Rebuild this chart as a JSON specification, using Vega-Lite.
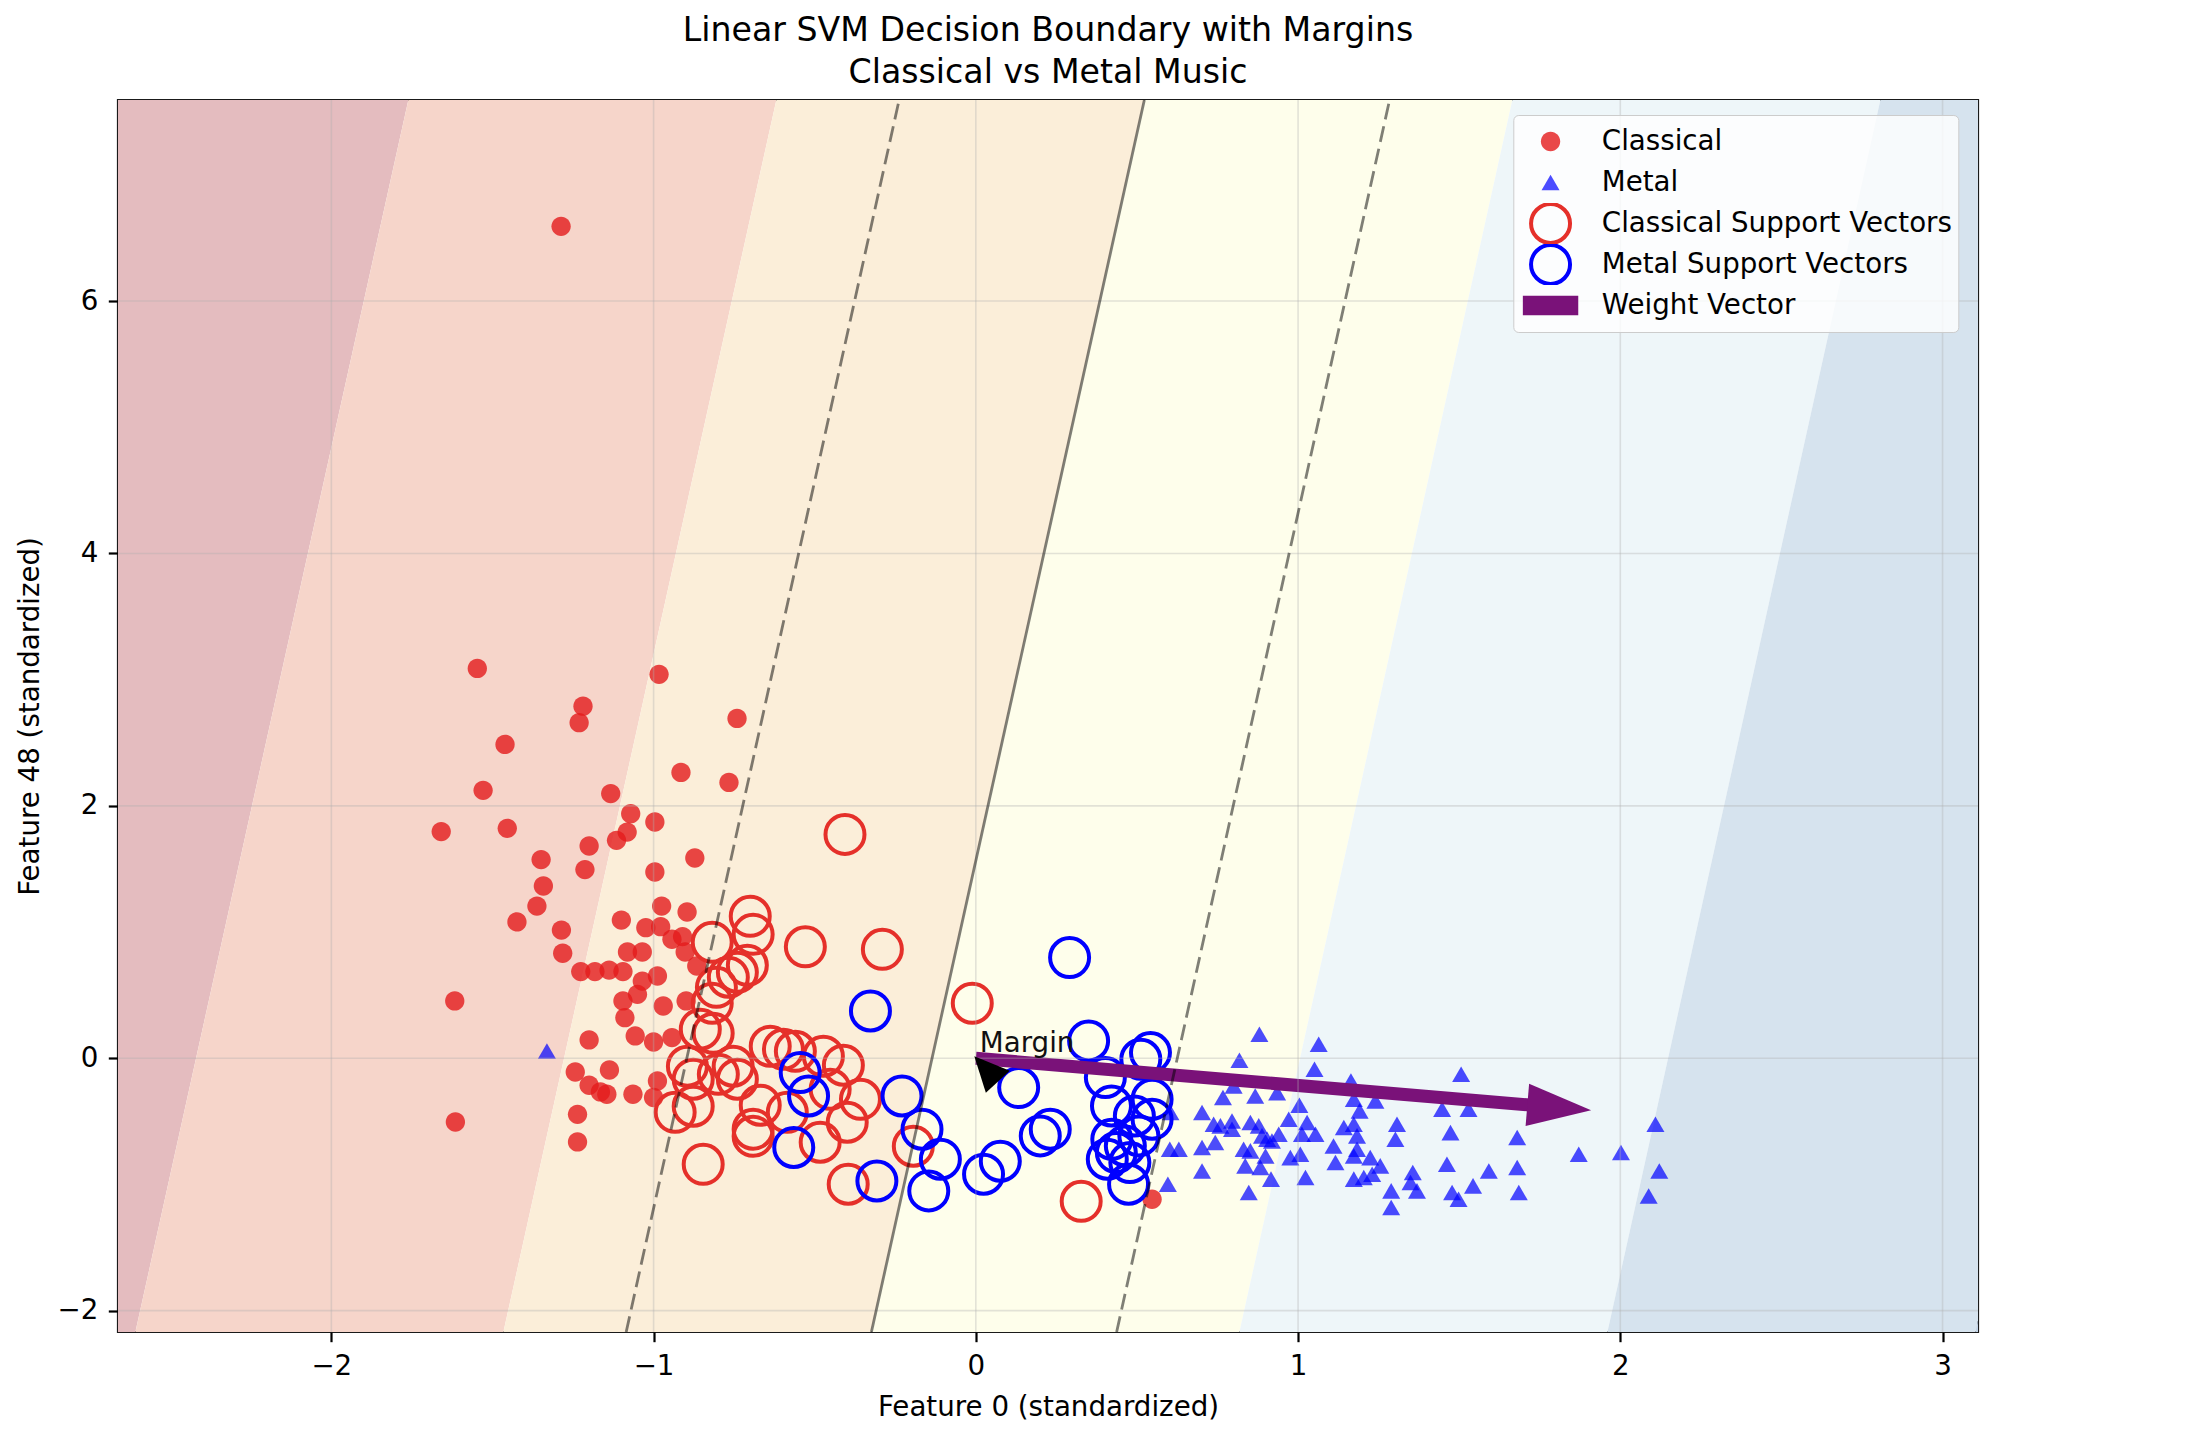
{
  "$schema": "https://vega.github.io/schema/vega-lite/v6.json",
  "width": 1860,
  "height": 1232,
  "autosize": {"type": "none"},
  "padding": {"left": 118, "top": 100, "right": 208, "bottom": 116},
  "background": "white",
  "config": {
    "font": "DejaVu Sans",
    "view": {"stroke": "#1a1a1a", "strokeWidth": 2.2},
    "axis": {"grid": false}
  },
  "title": {
    "text": ["Linear SVM Decision Boundary with Margins", "Classical vs Metal Music"],
    "font": "DejaVu Sans", "fontSize": 33.2, "fontWeight": "normal", "color": "#000",
    "lineHeight": 41.6, "baseline": "bottom", "offset": -24, "anchor": "middle", "frame": "group"
  },
  "datasets": {
    "bands": [
      {"b": 1, "y": -2.169, "xl": -4, "xr": -2.608}, {"b": 1, "y": 7.593, "xl": -4, "xr": -1.761},
      {"b": 2, "y": -2.169, "xl": -2.608, "xr": -1.466}, {"b": 2, "y": 7.593, "xl": -1.761, "xr": -0.619},
      {"b": 3, "y": -2.169, "xl": -1.466, "xr": -0.324}, {"b": 3, "y": 7.593, "xl": -0.619, "xr": 0.523},
      {"b": 4, "y": -2.169, "xl": -0.324, "xr": 0.818}, {"b": 4, "y": 7.593, "xl": 0.523, "xr": 1.665},
      {"b": 5, "y": -2.169, "xl": 0.818, "xr": 1.960}, {"b": 5, "y": 7.593, "xl": 1.665, "xr": 2.807},
      {"b": 6, "y": -2.169, "xl": 1.960, "xr": 3.102}, {"b": 6, "y": 7.593, "xl": 2.807, "xr": 3.949},
      {"b": 7, "y": -2.169, "xl": 3.102, "xr": 5}, {"b": 7, "y": 7.593, "xl": 3.949, "xr": 5}
    ],
    "solid": [{"x": -0.324, "y": -2.169, "x2": 0.523, "y2": 7.593}],
    "dashed": [
      {"x": -1.085, "y": -2.169, "x2": -0.238, "y2": 7.593},
      {"x": 0.437, "y": -2.169, "x2": 1.284, "y2": 7.593}
    ],
    "gx": [{"v": -2}, {"v": -1}, {"v": 0}, {"v": 1}, {"v": 2}, {"v": 3}],
    "gy": [{"v": -2}, {"v": 0}, {"v": 2}, {"v": 4}, {"v": 6}],
    "pts": [
      {"x": -1.287, "y": 6.592, "s": "Classical"}, {"x": -1.547, "y": 3.089, "s": "Classical"}, {"x": -0.983, "y": 3.042, "s": "Classical"}, {"x": -1.219, "y": 2.790, "s": "Classical"},
      {"x": -1.231, "y": 2.659, "s": "Classical"}, {"x": -0.741, "y": 2.693, "s": "Classical"}, {"x": -1.461, "y": 2.487, "s": "Classical"}, {"x": -0.915, "y": 2.265, "s": "Classical"},
      {"x": -0.766, "y": 2.186, "s": "Classical"}, {"x": -1.529, "y": 2.123, "s": "Classical"}, {"x": -1.133, "y": 2.097, "s": "Classical"}, {"x": -1.071, "y": 1.938, "s": "Classical"},
      {"x": -0.996, "y": 1.872, "s": "Classical"}, {"x": -1.659, "y": 1.796, "s": "Classical"}, {"x": -1.454, "y": 1.822, "s": "Classical"}, {"x": -1.082, "y": 1.792, "s": "Classical"},
      {"x": -1.115, "y": 1.727, "s": "Classical"}, {"x": -1.200, "y": 1.682, "s": "Classical"}, {"x": -0.872, "y": 1.587, "s": "Classical"}, {"x": -1.349, "y": 1.574, "s": "Classical"},
      {"x": -1.213, "y": 1.495, "s": "Classical"}, {"x": -0.996, "y": 1.476, "s": "Classical"}, {"x": -1.342, "y": 1.365, "s": "Classical"}, {"x": -0.975, "y": 1.206, "s": "Classical"},
      {"x": -1.362, "y": 1.206, "s": "Classical"}, {"x": -0.896, "y": 1.159, "s": "Classical"}, {"x": -1.424, "y": 1.080, "s": "Classical"}, {"x": -1.100, "y": 1.095, "s": "Classical"},
      {"x": -1.286, "y": 1.016, "s": "Classical"}, {"x": -1.024, "y": 1.035, "s": "Classical"}, {"x": -0.978, "y": 1.043, "s": "Classical"}, {"x": -0.943, "y": 0.943, "s": "Classical"},
      {"x": -0.910, "y": 0.964, "s": "Classical"}, {"x": -1.081, "y": 0.842, "s": "Classical"}, {"x": -1.035, "y": 0.842, "s": "Classical"}, {"x": -0.902, "y": 0.842, "s": "Classical"},
      {"x": -1.282, "y": 0.832, "s": "Classical"}, {"x": -0.866, "y": 0.731, "s": "Classical"}, {"x": -1.226, "y": 0.687, "s": "Classical"}, {"x": -1.182, "y": 0.687, "s": "Classical"},
      {"x": -1.138, "y": 0.699, "s": "Classical"}, {"x": -1.095, "y": 0.687, "s": "Classical"}, {"x": -1.035, "y": 0.612, "s": "Classical"}, {"x": -0.988, "y": 0.652, "s": "Classical"},
      {"x": -1.050, "y": 0.507, "s": "Classical"}, {"x": -1.095, "y": 0.454, "s": "Classical"}, {"x": -0.970, "y": 0.414, "s": "Classical"}, {"x": -1.617, "y": 0.454, "s": "Classical"},
      {"x": -0.899, "y": 0.454, "s": "Classical"}, {"x": -1.089, "y": 0.322, "s": "Classical"}, {"x": -1.057, "y": 0.177, "s": "Classical"}, {"x": -1.000, "y": 0.129, "s": "Classical"},
      {"x": -0.943, "y": 0.164, "s": "Classical"}, {"x": -1.200, "y": 0.145, "s": "Classical"}, {"x": -1.243, "y": -0.109, "s": "Classical"}, {"x": -1.137, "y": -0.093, "s": "Classical"},
      {"x": -1.200, "y": -0.214, "s": "Classical"}, {"x": -1.165, "y": -0.267, "s": "Classical"}, {"x": -1.145, "y": -0.285, "s": "Classical"}, {"x": -1.064, "y": -0.285, "s": "Classical"},
      {"x": -0.988, "y": -0.180, "s": "Classical"}, {"x": -1.000, "y": -0.311, "s": "Classical"}, {"x": -1.236, "y": -0.444, "s": "Classical"}, {"x": -1.615, "y": -0.505, "s": "Classical"},
      {"x": -1.236, "y": -0.663, "s": "Classical"}, {"x": 0.547, "y": -1.117, "s": "Classical"},
      {"x": -1.331, "y": 0.058, "s": "Metal"}, {"x": 0.880, "y": 0.190, "s": "Metal"}, {"x": 0.818, "y": -0.016, "s": "Metal"}, {"x": 1.064, "y": 0.111, "s": "Metal"},
      {"x": 1.051, "y": -0.087, "s": "Metal"}, {"x": 1.506, "y": -0.127, "s": "Metal"}, {"x": 1.164, "y": -0.180, "s": "Metal"}, {"x": 0.800, "y": -0.219, "s": "Metal"},
      {"x": 0.767, "y": -0.311, "s": "Metal"}, {"x": 0.867, "y": -0.299, "s": "Metal"}, {"x": 0.935, "y": -0.272, "s": "Metal"}, {"x": 1.004, "y": -0.372, "s": "Metal"},
      {"x": 1.173, "y": -0.325, "s": "Metal"}, {"x": 1.191, "y": -0.417, "s": "Metal"}, {"x": 1.240, "y": -0.338, "s": "Metal"}, {"x": 1.447, "y": -0.404, "s": "Metal"},
      {"x": 1.529, "y": -0.404, "s": "Metal"}, {"x": 0.702, "y": -0.430, "s": "Metal"}, {"x": 0.738, "y": -0.523, "s": "Metal"}, {"x": 0.759, "y": -0.536, "s": "Metal"},
      {"x": 0.795, "y": -0.497, "s": "Metal"}, {"x": 0.795, "y": -0.562, "s": "Metal"}, {"x": 0.852, "y": -0.509, "s": "Metal"}, {"x": 0.878, "y": -0.536, "s": "Metal"},
      {"x": 0.888, "y": -0.615, "s": "Metal"}, {"x": 0.904, "y": -0.642, "s": "Metal"}, {"x": 0.919, "y": -0.655, "s": "Metal"}, {"x": 0.971, "y": -0.483, "s": "Metal"},
      {"x": 0.940, "y": -0.602, "s": "Metal"}, {"x": 1.028, "y": -0.509, "s": "Metal"}, {"x": 1.054, "y": -0.602, "s": "Metal"}, {"x": 1.012, "y": -0.602, "s": "Metal"},
      {"x": 1.142, "y": -0.549, "s": "Metal"}, {"x": 1.173, "y": -0.523, "s": "Metal"}, {"x": 1.183, "y": -0.615, "s": "Metal"}, {"x": 1.307, "y": -0.523, "s": "Metal"},
      {"x": 1.302, "y": -0.642, "s": "Metal"}, {"x": 1.473, "y": -0.589, "s": "Metal"}, {"x": 1.680, "y": -0.628, "s": "Metal"}, {"x": 2.109, "y": -0.523, "s": "Metal"},
      {"x": 0.743, "y": -0.668, "s": "Metal"}, {"x": 0.702, "y": -0.707, "s": "Metal"}, {"x": 0.702, "y": -0.893, "s": "Metal"}, {"x": 0.831, "y": -0.721, "s": "Metal"},
      {"x": 0.852, "y": -0.734, "s": "Metal"}, {"x": 0.899, "y": -0.774, "s": "Metal"}, {"x": 0.976, "y": -0.787, "s": "Metal"}, {"x": 1.007, "y": -0.760, "s": "Metal"},
      {"x": 1.110, "y": -0.695, "s": "Metal"}, {"x": 1.116, "y": -0.826, "s": "Metal"}, {"x": 1.173, "y": -0.774, "s": "Metal"}, {"x": 1.183, "y": -0.721, "s": "Metal"},
      {"x": 0.836, "y": -0.853, "s": "Metal"}, {"x": 0.883, "y": -0.866, "s": "Metal"}, {"x": 1.224, "y": -0.787, "s": "Metal"}, {"x": 1.255, "y": -0.853, "s": "Metal"},
      {"x": 1.173, "y": -0.958, "s": "Metal"}, {"x": 1.204, "y": -0.945, "s": "Metal"}, {"x": 1.230, "y": -0.919, "s": "Metal"}, {"x": 0.916, "y": -0.958, "s": "Metal"},
      {"x": 1.023, "y": -0.945, "s": "Metal"}, {"x": 1.462, "y": -0.840, "s": "Metal"}, {"x": 1.680, "y": -0.866, "s": "Metal"}, {"x": 1.592, "y": -0.893, "s": "Metal"},
      {"x": 1.871, "y": -0.760, "s": "Metal"}, {"x": 2.002, "y": -0.747, "s": "Metal"}, {"x": 2.121, "y": -0.893, "s": "Metal"}, {"x": 1.356, "y": -0.905, "s": "Metal"},
      {"x": 1.349, "y": -0.985, "s": "Metal"}, {"x": 1.369, "y": -1.051, "s": "Metal"}, {"x": 1.289, "y": -1.051, "s": "Metal"}, {"x": 1.289, "y": -1.183, "s": "Metal"},
      {"x": 0.847, "y": -1.064, "s": "Metal"}, {"x": 1.478, "y": -1.064, "s": "Metal"}, {"x": 1.498, "y": -1.117, "s": "Metal"}, {"x": 1.543, "y": -1.011, "s": "Metal"},
      {"x": 1.685, "y": -1.064, "s": "Metal"}, {"x": 2.088, "y": -1.091, "s": "Metal"}, {"x": 0.602, "y": -0.721, "s": "Metal"}, {"x": 0.630, "y": -0.721, "s": "Metal"},
      {"x": 0.596, "y": -0.998, "s": "Metal"}, {"x": 0.604, "y": -0.430, "s": "Metal"},
      {"x": -0.406, "y": 1.774, "s": "Classical Support Vectors"}, {"x": -0.700, "y": 1.125, "s": "Classical Support Vectors"}, {"x": -0.691, "y": 0.982, "s": "Classical Support Vectors"}, {"x": -0.818, "y": 0.919, "s": "Classical Support Vectors"},
      {"x": -0.529, "y": 0.883, "s": "Classical Support Vectors"}, {"x": -0.290, "y": 0.863, "s": "Classical Support Vectors"}, {"x": -0.709, "y": 0.737, "s": "Classical Support Vectors"}, {"x": -0.740, "y": 0.681, "s": "Classical Support Vectors"},
      {"x": -0.768, "y": 0.642, "s": "Classical Support Vectors"}, {"x": -0.805, "y": 0.562, "s": "Classical Support Vectors"}, {"x": -0.818, "y": 0.436, "s": "Classical Support Vectors"}, {"x": -0.855, "y": 0.230, "s": "Classical Support Vectors"},
      {"x": -0.815, "y": 0.198, "s": "Classical Support Vectors"}, {"x": -0.638, "y": 0.095, "s": "Classical Support Vectors"}, {"x": -0.597, "y": 0.071, "s": "Classical Support Vectors"}, {"x": -0.560, "y": 0.055, "s": "Classical Support Vectors"},
      {"x": -0.473, "y": 0.016, "s": "Classical Support Vectors"}, {"x": -0.411, "y": -0.055, "s": "Classical Support Vectors"}, {"x": -0.895, "y": -0.063, "s": "Classical Support Vectors"}, {"x": -0.877, "y": -0.166, "s": "Classical Support Vectors"},
      {"x": -0.799, "y": -0.127, "s": "Classical Support Vectors"}, {"x": -0.753, "y": -0.063, "s": "Classical Support Vectors"}, {"x": -0.740, "y": -0.166, "s": "Classical Support Vectors"}, {"x": -0.877, "y": -0.380, "s": "Classical Support Vectors"},
      {"x": -0.933, "y": -0.428, "s": "Classical Support Vectors"}, {"x": -0.691, "y": -0.562, "s": "Classical Support Vectors"}, {"x": -0.691, "y": -0.618, "s": "Classical Support Vectors"}, {"x": -0.585, "y": -0.428, "s": "Classical Support Vectors"},
      {"x": -0.483, "y": -0.665, "s": "Classical Support Vectors"}, {"x": -0.399, "y": -0.507, "s": "Classical Support Vectors"}, {"x": -0.358, "y": -0.325, "s": "Classical Support Vectors"}, {"x": -0.846, "y": -0.840, "s": "Classical Support Vectors"},
      {"x": -0.396, "y": -0.998, "s": "Classical Support Vectors"}, {"x": -0.194, "y": -0.697, "s": "Classical Support Vectors"}, {"x": -0.011, "y": 0.436, "s": "Classical Support Vectors"}, {"x": 0.327, "y": -1.133, "s": "Classical Support Vectors"},
      {"x": -0.452, "y": -0.246, "s": "Classical Support Vectors"}, {"x": -0.669, "y": -0.372, "s": "Classical Support Vectors"},
      {"x": 0.291, "y": 0.798, "s": "Metal Support Vectors"}, {"x": -0.327, "y": 0.375, "s": "Metal Support Vectors"}, {"x": 0.350, "y": 0.137, "s": "Metal Support Vectors"}, {"x": 0.542, "y": 0.045, "s": "Metal Support Vectors"},
      {"x": 0.512, "y": -0.008, "s": "Metal Support Vectors"}, {"x": -0.545, "y": -0.113, "s": "Metal Support Vectors"}, {"x": -0.519, "y": -0.299, "s": "Metal Support Vectors"}, {"x": -0.229, "y": -0.299, "s": "Metal Support Vectors"},
      {"x": 0.133, "y": -0.232, "s": "Metal Support Vectors"}, {"x": 0.402, "y": -0.153, "s": "Metal Support Vectors"}, {"x": 0.421, "y": -0.378, "s": "Metal Support Vectors"}, {"x": -0.167, "y": -0.562, "s": "Metal Support Vectors"},
      {"x": -0.565, "y": -0.707, "s": "Metal Support Vectors"}, {"x": -0.110, "y": -0.800, "s": "Metal Support Vectors"}, {"x": 0.200, "y": -0.615, "s": "Metal Support Vectors"}, {"x": 0.231, "y": -0.562, "s": "Metal Support Vectors"},
      {"x": 0.076, "y": -0.816, "s": "Metal Support Vectors"}, {"x": 0.024, "y": -0.919, "s": "Metal Support Vectors"}, {"x": -0.307, "y": -0.972, "s": "Metal Support Vectors"}, {"x": -0.146, "y": -1.051, "s": "Metal Support Vectors"},
      {"x": 0.474, "y": -0.998, "s": "Metal Support Vectors"}, {"x": 0.547, "y": -0.325, "s": "Metal Support Vectors"}, {"x": 0.492, "y": -0.457, "s": "Metal Support Vectors"}, {"x": 0.547, "y": -0.483, "s": "Metal Support Vectors"},
      {"x": 0.422, "y": -0.642, "s": "Metal Support Vectors"}, {"x": 0.464, "y": -0.695, "s": "Metal Support Vectors"}, {"x": 0.506, "y": -0.615, "s": "Metal Support Vectors"}, {"x": 0.436, "y": -0.747, "s": "Metal Support Vectors"},
      {"x": 0.408, "y": -0.800, "s": "Metal Support Vectors"}, {"x": 0.478, "y": -0.826, "s": "Metal Support Vectors"}
    ],
    "shaft": [{"x": 0, "y": 0, "x2": 1.7376, "y2": -0.3748}],
    "head": [{"x": 1.8105, "y": -0.3906}],
    "label": [{"x": 0, "y": 0, "t": "Margin"}],
    "bhead": [{"x": 0.0318, "y": -0.085}]
  },
  "layer": [
    {
      "data": {"name": "bands"},
      "mark": {"type": "area", "orient": "horizontal", "clip": true},
      "encoding": {
        "y": {"field": "y", "type": "quantitative",
              "scale": {"domain": [-2.169, 7.593], "nice": false, "zero": false},
              "axis": {"values": [-2, 0, 2, 4, 6], "format": "d", "title": "Feature 48 (standardized)",
                       "labelFontSize": 27.7, "titleFontSize": 27.7, "labelFont": "DejaVu Sans", "titleFont": "DejaVu Sans",
                       "titleFontWeight": "normal", "labelColor": "#000", "titleColor": "#000", "tickColor": "#000",
                       "ticks": true, "tickWidth": 2.2, "tickSize": 9.7, "labelPadding": 10.5, "titlePadding": 12,
                       "domain": false, "grid": false, "labelFlush": false, "labelOverlap": false}},
        "x": {"field": "xl", "type": "quantitative", "stack": null,
              "scale": {"domain": [-2.662, 3.110], "nice": false, "zero": false},
              "axis": {"values": [-2, -1, 0, 1, 2, 3], "format": "d", "title": "Feature 0 (standardized)",
                       "labelFontSize": 27.7, "titleFontSize": 27.7, "labelFont": "DejaVu Sans", "titleFont": "DejaVu Sans",
                       "titleFontWeight": "normal", "labelColor": "#000", "titleColor": "#000", "tickColor": "#000",
                       "ticks": true, "tickWidth": 2.2, "tickSize": 9.7, "labelPadding": 10.5, "titlePadding": 14,
                       "domain": false, "grid": false, "labelFlush": false, "labelOverlap": false}},
        "x2": {"field": "xr"},
        "color": {"field": "b", "type": "nominal",
                  "scale": {"domain": [1, 2, 3, 4, 5, 6, 7],
                            "range": ["#e4bcbf", "#f6d5ca", "#fbeed9", "#fefeeb", "#eef6f9", "#d6e3ee", "#c3d4e7"]},
                  "legend": null}
      }
    },
    {
      "data": {"name": "pts"},
      "mark": {"type": "point", "size": 100, "strokeWidth": 4, "opacity": 1},
      "encoding": {
        "x": {"field": "x", "type": "quantitative"},
        "y": {"field": "y", "type": "quantitative"},
        "fill": {"field": "s", "type": "nominal",
                 "scale": {"domain": ["Classical", "Metal", "Classical Support Vectors", "Metal Support Vectors", "Weight Vector"],
                           "range": ["rgba(228,26,28,0.8)", "rgba(0,0,255,0.7)", "transparent", "transparent", "#7a1279"]},
                 "legend": {"title": null, "orient": "none", "legendX": 1395.3, "legendY": 15, "padding": 6,
                            "fillColor": "rgba(255,255,255,0.8)", "strokeColor": "#cccccc", "cornerRadius": 5,
                            "labelFontSize": 27.7, "labelFont": "DejaVu Sans", "labelColor": "#000", "labelLimit": 800,
                            "labelExpr": "datum.label + '\u00a0'",
                            "clipHeight": 41, "rowPadding": 0, "labelOffset": 37.4, "symbolOffset": 17.4,
                            "symbolSize": 100, "symbolStrokeWidth": 4}},
        "stroke": {"field": "s", "type": "nominal",
                   "scale": {"domain": ["Classical", "Metal", "Classical Support Vectors", "Metal Support Vectors", "Weight Vector"],
                             "range": ["transparent", "transparent", "#e5302a", "#0000ff", "transparent"]},
                   "legend": {"title": null, "orient": "none", "legendX": 1395.3, "legendY": 15, "padding": 6,
                              "fillColor": "rgba(255,255,255,0.8)", "strokeColor": "#cccccc", "cornerRadius": 5,
                              "labelFontSize": 27.7, "labelFont": "DejaVu Sans", "labelColor": "#000", "labelLimit": 800,
                              "labelExpr": "datum.label + '\u00a0'",
                              "clipHeight": 41, "rowPadding": 0, "labelOffset": 37.4, "symbolOffset": 17.4,
                              "symbolSize": 100, "symbolStrokeWidth": 4}},
        "shape": {"field": "s", "type": "nominal",
                  "scale": {"domain": ["Classical", "Metal", "Classical Support Vectors", "Metal Support Vectors", "Weight Vector"],
                            "range": ["M1.93,0A1.93,1.93,0,1,1,-1.93,0A1.93,1.93,0,1,1,1.93,0Z",
                                      "M0,-1.56L1.8,1.56L-1.8,1.56Z",
                                      "M3.9,0A3.9,3.9,0,1,1,-3.9,0A3.9,3.9,0,1,1,3.9,0Z",
                                      "M3.9,0A3.9,3.9,0,1,1,-3.9,0A3.9,3.9,0,1,1,3.9,0Z",
                                      "M-5.54,-1.94L5.54,-1.94L5.54,1.94L-5.54,1.94Z"]},
                  "legend": {"title": null, "orient": "none", "legendX": 1395.3, "legendY": 15, "padding": 6,
                             "fillColor": "rgba(255,255,255,0.8)", "strokeColor": "#cccccc", "cornerRadius": 5,
                             "labelFontSize": 27.7, "labelFont": "DejaVu Sans", "labelColor": "#000", "labelLimit": 800,
                             "labelExpr": "datum.label + '\u00a0'",
                             "clipHeight": 41, "rowPadding": 0, "labelOffset": 37.4, "symbolOffset": 17.4,
                             "symbolSize": 100, "symbolStrokeWidth": 4}}
      }
    },
    {
      "data": {"name": "shaft"},
      "mark": {"type": "rule", "strokeWidth": 13, "strokeCap": "butt", "color": "#7a1279"},
      "encoding": {
        "x": {"field": "x", "type": "quantitative"},
        "y": {"field": "y", "type": "quantitative"},
        "x2": {"field": "x2"},
        "y2": {"field": "y2"}
      }
    },
    {
      "data": {"name": "head"},
      "mark": {"type": "point", "filled": true, "shape": "M1,0L-1,-0.66L-1,0.66Z", "size": 4096, "angle": 4.78, "opacity": 1, "color": "#7a1279"},
      "encoding": {
        "x": {"field": "x", "type": "quantitative"},
        "y": {"field": "y", "type": "quantitative"}
      }
    },
    {
      "data": {"name": "gx"},
      "mark": {"type": "rule", "stroke": "#b0b0b0", "strokeOpacity": 0.35, "strokeWidth": 1.6},
      "encoding": {"x": {"field": "v", "type": "quantitative"}}
    },
    {
      "data": {"name": "gy"},
      "mark": {"type": "rule", "stroke": "#b0b0b0", "strokeOpacity": 0.35, "strokeWidth": 1.6},
      "encoding": {"y": {"field": "v", "type": "quantitative"}}
    },
    {
      "data": {"name": "solid"},
      "mark": {"type": "rule", "stroke": "#000", "strokeOpacity": 0.5, "strokeWidth": 2.8, "clip": true},
      "encoding": {
        "x": {"field": "x", "type": "quantitative"},
        "y": {"field": "y", "type": "quantitative"},
        "x2": {"field": "x2"},
        "y2": {"field": "y2"}
      }
    },
    {
      "data": {"name": "dashed"},
      "mark": {"type": "rule", "stroke": "#000", "strokeOpacity": 0.5, "strokeWidth": 2.8, "strokeDash": [16, 7], "clip": true},
      "encoding": {
        "x": {"field": "x", "type": "quantitative"},
        "y": {"field": "y", "type": "quantitative"},
        "x2": {"field": "x2"},
        "y2": {"field": "y2"}
      }
    },
    {
      "data": {"name": "label"},
      "mark": {"type": "text", "align": "left", "baseline": "bottom", "dx": 4, "fontSize": 27.7, "font": "DejaVu Sans", "color": "#111"},
      "encoding": {
        "x": {"field": "x", "type": "quantitative"},
        "y": {"field": "y", "type": "quantitative"},
        "text": {"field": "t"}
      }
    },
    {
      "data": {"name": "bhead"},
      "mark": {"type": "point", "filled": true, "shape": "M0,-1L-0.94,1L0.94,1Z", "size": 1204, "angle": -42.7, "color": "#000", "opacity": 1},
      "encoding": {
        "x": {"field": "x", "type": "quantitative"},
        "y": {"field": "y", "type": "quantitative"}
      }
    }
  ]
}
